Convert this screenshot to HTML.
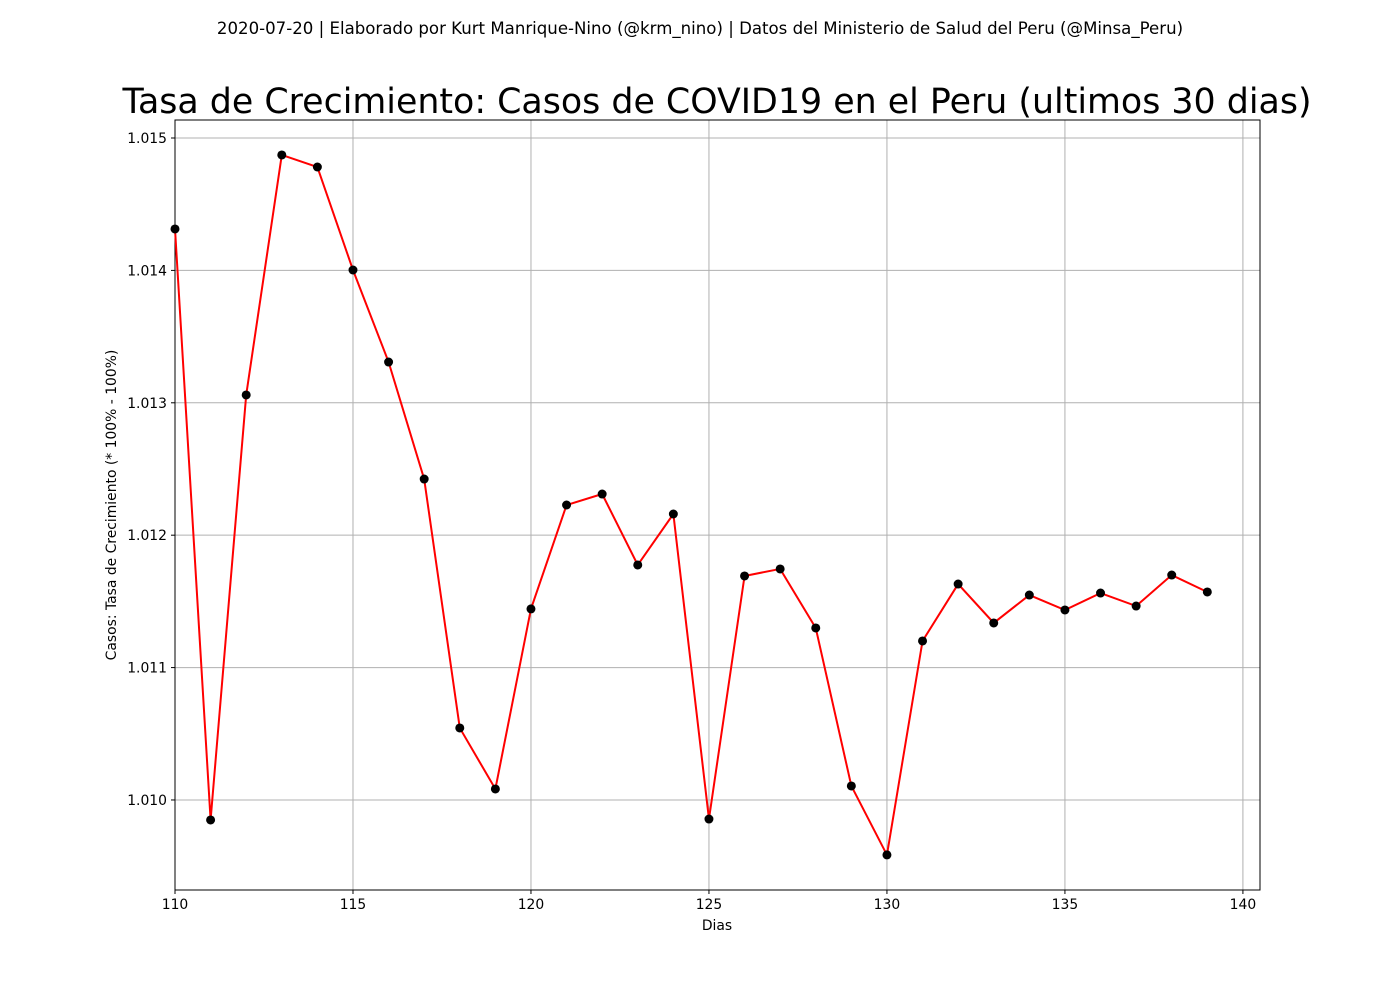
<!DOCTYPE html>
<html><head><meta charset="utf-8"><style>
body{margin:0;background:#fff;width:1400px;height:1000px;overflow:hidden;font-family:"DejaVu Sans","Liberation Sans",sans-serif}
svg text{font-family:"DejaVu Sans","Liberation Sans",sans-serif}
</style></head><body>
<svg id="chart" width="1400" height="1000" xmlns="http://www.w3.org/2000/svg">
<text x="700" y="34" text-anchor="middle" font-size="16.6">2020-07-20 | Elaborado por Kurt Manrique-Nino (@krm_nino) | Datos del Ministerio de Salud del Peru (@Minsa_Peru)</text>
<text x="717" y="113" text-anchor="middle" font-size="34.8">Tasa de Crecimiento: Casos de COVID19 en el Peru (ultimos 30 dias)</text>
<g id="grid"></g><g id="axes"></g><g id="series"></g>
<text x="717" y="930" text-anchor="middle" font-size="13.9">Dias</text>
<text transform="translate(116,505) rotate(-90)" text-anchor="middle" font-size="13.9">Casos: Tasa de Crecimiento (* 100% - 100%)</text>
</svg>
<script>
const days=[110,111,112,113,114,115,116,117,118,119,120,121,122,123,124,125,126,127,128,129,130,131,132,133,134,135,136,137,138,139];
const rates=[1.014313,1.009849,1.013059,1.014872,1.014781,1.014003,1.013308,1.012424,1.010544,1.010083,1.011443,1.012228,1.012311,1.011775,1.012160,1.009856,1.011692,1.011745,1.011299,1.010106,1.009585,1.011201,1.011631,1.011337,1.011548,1.011435,1.011563,1.011465,1.011699,1.011571];
const xTicks=[110,115,120,125,130,135,140];
const yTicks=[1.010,1.011,1.012,1.013,1.014,1.015];
const L=175,R=1260,T=120,B=890;
const xMin=110,xMax=140.48,yMin=1.00932,yMax=1.015136;
const xs=v=>L+(v-xMin)/(xMax-xMin)*(R-L);
const ys=v=>B-(v-yMin)/(yMax-yMin)*(B-T);
const NS="http://www.w3.org/2000/svg";
function mk(tag,attrs,parent,text){const e=document.createElementNS(NS,tag);for(const k in attrs)e.setAttribute(k,attrs[k]);if(text!==undefined)e.textContent=text;document.getElementById(parent).appendChild(e);return e;}
xTicks.forEach(t=>{const x=xs(t);
 const g=mk('line',{x1:x,x2:x,y1:T,y2:B,stroke:'#b0b0b0','stroke-width':1},'grid');
 
 
 mk('line',{x1:x,x2:x,y1:B,y2:B+4,stroke:'#000'},'axes');
 const l=mk('text',{x:x,y:B+19,'text-anchor':'middle','font-size':13.9},'axes',String(t));
 
 
});
yTicks.forEach(t=>{const y=ys(t);
 const g=mk('line',{x1:L,x2:R,y1:y,y2:y,stroke:'#b0b0b0','stroke-width':1},'grid');
 
 
 mk('line',{x1:L-4,x2:L,y1:y,y2:y,stroke:'#000'},'axes');
 const l=mk('text',{x:L-8,y:y+5,'text-anchor':'end','font-size':13.9},'axes',t.toFixed(3));
 
 
});
const frame=mk('rect',{x:L,y:T,width:R-L,height:B-T,fill:'none',stroke:'#000','stroke-width':1},'axes');


const pts=days.map((d,i)=>xs(d)+','+ys(rates[i])).join(' ');
const line=mk('polyline',{points:pts,fill:'none',stroke:'#ff0000','stroke-width':2},'series');


days.forEach((d,i)=>{
 const c=mk('circle',{cx:xs(d),cy:ys(rates[i]),r:4.5,fill:'#000'},'series');
 
 
});
</script>
</body></html>
